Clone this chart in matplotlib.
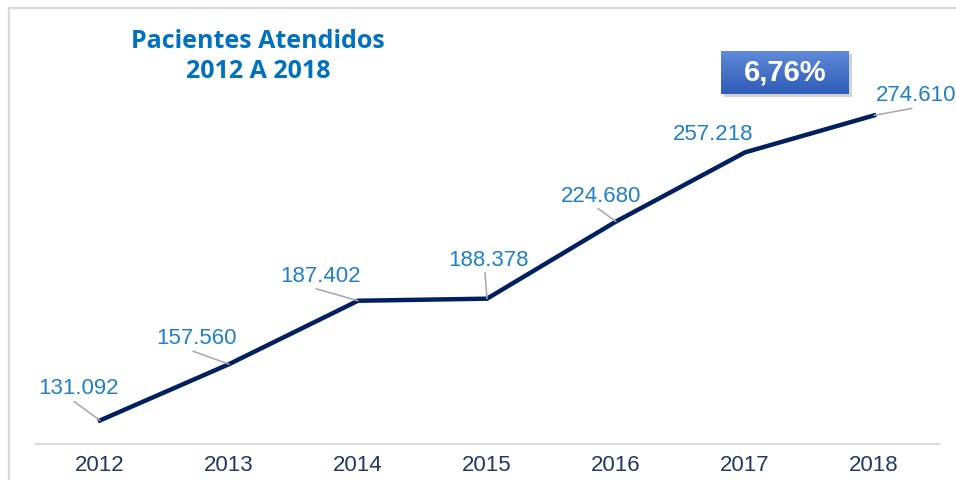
import numpy as np
import matplotlib
matplotlib.use('Agg')
import matplotlib.pyplot as plt
from matplotlib.patches import Rectangle

# Data
years = ['2012', '2013', '2014', '2015', '2016', '2017', '2018']
patients = [131092, 157560, 187402, 188378, 224680, 257218, 274610]
labels = ['131.092', '157.560', '187.402', '188.378', '224.680', '257.218', '274.610']
growth_label = '6,76%'

# label offsets in pixels (text centre, leader end) relative to the point
text_off = [(-22, 32), (-32, 26), (-37, 24), (1, 38), (-15, 25), (-32, 18), (42, 20)]
leader_off = [(-26, 19), (-36, 13), (-42, 12), (-2, 26), (-18, 13), None, (38, 7)]

W, H = 956, 480
fig = plt.figure(figsize=(W / 100, H / 100), dpi=100)

# light frame around the chart area
fig.patches.append(Rectangle((8.5 / W, -0.2), 2, (H - 7.5) / H + 0.2,
                             transform=fig.transFigure, fill=False,
                             edgecolor='#D9D9D9', linewidth=1.6, zorder=0))

ax = fig.add_axes([35.5 / W, 36 / H, 903 / W, 361.3 / H])
ax.set_zorder(2)
ax.patch.set_alpha(0)
x = np.arange(len(years))
ax.plot(x, patients, color='#002060', linewidth=3.2, solid_joinstyle='miter', zorder=3)
ax.set_xlim(-0.5, 6.5)
ax.set_ylim(120000, 290000)

for sp in ['top', 'right', 'left']:
    ax.spines[sp].set_visible(False)
ax.spines['bottom'].set_color('#D9D9D9')
ax.spines['bottom'].set_linewidth(1.5)
ax.set_yticks([])
ax.set_xticks(x)
ax.set_xticklabels(years, fontsize=16, color='#1F3864', family='Liberation Sans')
ax.tick_params(axis='x', length=0, pad=8)

for i, v in enumerate(patients):
    dx, dy = text_off[i]
    ax.annotate(labels[i], (x[i], v), xytext=(dx, dy), textcoords='offset pixels',
                ha='center', va='center', fontsize=16, color='#1F80C9',
                family='Liberation Sans', annotation_clip=False)
    if leader_off[i] is not None:
        lx, ly = leader_off[i]
        ax.annotate('', (x[i], v), xytext=(lx, ly), textcoords='offset pixels',
                    arrowprops=dict(arrowstyle='-', color='#A6A6A6', lw=1.1,
                                    shrinkA=0, shrinkB=0))

# title
fig.text(258 / W, 1 - 41 / H, 'Pacientes Atendidos', ha='center', va='center',
         fontsize=18, fontweight='bold', color='#0070C0', family='Open Sans')
fig.text(258 / W, 1 - 71 / H, '2012 A 2018', ha='center', va='center',
         fontsize=18, fontweight='bold', color='#0070C0', family='Open Sans')

# growth box with gradient and shadow
bx0, by0, bw, bh = 721, 51, 128, 43
fig.patches.append(Rectangle(((bx0 + 3) / W, 1 - (by0 + bh + 3) / H), bw / W, bh / H,
                             transform=fig.transFigure, facecolor='#7F7F7F',
                             alpha=0.35, edgecolor='none', zorder=0))
bax = fig.add_axes([bx0 / W, 1 - (by0 + bh) / H, bw / W, bh / H])
bax.set_zorder(3)
grad = np.linspace(0, 1, 64).reshape(-1, 1)
top = np.array([0x5E, 0x8A, 0xD8]) / 255
bot = np.array([0x2E, 0x5C, 0xB8]) / 255
img = top[None, None, :] * (1 - grad[:, :, None]) + bot[None, None, :] * grad[:, :, None]
bax.imshow(img, aspect='auto', extent=(0, 1, 0, 1))
bax.set_axis_off()
bax.text(0.5, 0.5, growth_label, ha='center', va='center', fontsize=21,
         fontweight='bold', color='white', family='Liberation Sans',
         transform=bax.transAxes)

fig.savefig('out.png', dpi=100)
